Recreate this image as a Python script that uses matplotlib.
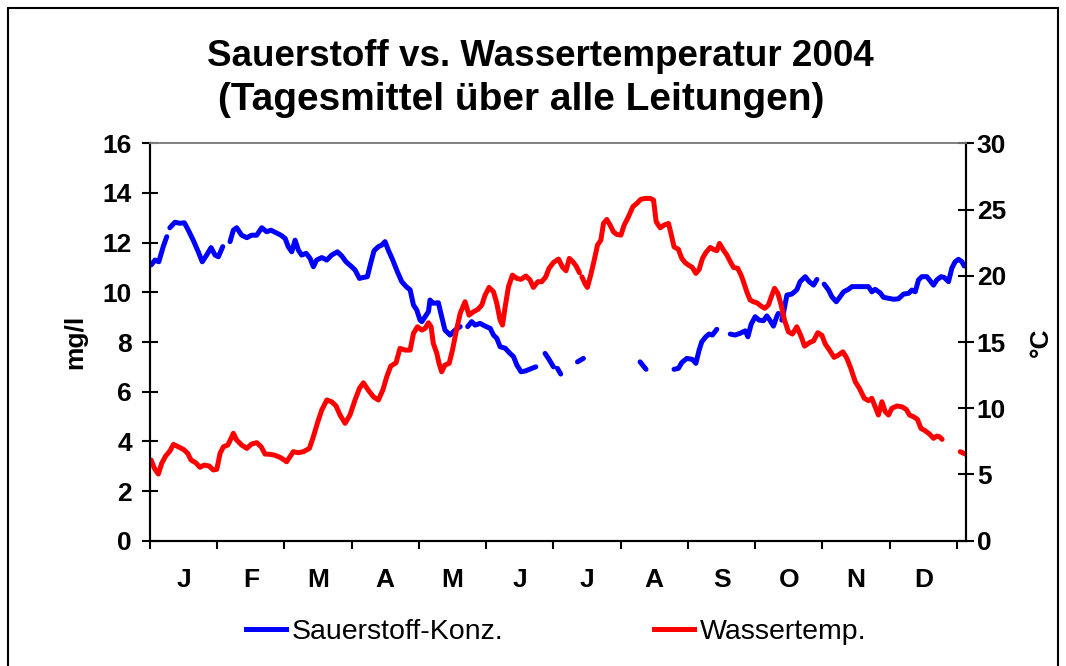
import numpy as np
import matplotlib
matplotlib.use("Agg")
import matplotlib.pyplot as plt
from matplotlib.patches import Rectangle
from matplotlib.lines import Line2D

plt.rcParams['font.family'] = ['Liberation Sans', 'DejaVu Sans']

nan = np.nan

# day of year 2004, daily means (nan = no data)
o2_day = [0.5, 2.3, 4, 6, 7.6, nan,
          9, 11.3, 13.6, 15.6, 17.4, 19.6, 21.9, 23.7, 25.7, 27.7, 29.5, 31, 33, nan,
          36.3, 37.8, 39.3, 41.6, 43.9, 46.1, 48.4, 50.7, 52.9, 54.9, 57.2, 59.4, 61.3, 62.7,
          64.3, 65.8, 67.3, 68.8, 70.8, 72.6, 74.1, 75.6, 77.9, 80.2, 82.4, 85, 87, 88.9,
          91.1, 93, 95, 96.8, 98.6, 100.1, 101.6, 103.6, 105.1, 106.6, 108.1, 110.1, 112.2,
          114.2, 116.2, 118, 119.5, 121, 122.5, 123.3, 124.8, 126.3, 127, 128.5, 130.8,
          132.3, 133.8, 136.1, 138.4, 140.7, nan,
          144.1, 145.9, 147.5, 149.7, 152, 154.3, 155.8, 157.3, 158.8, 161.1, 163.3, 164.9,
          166.4, 168.3, 170.1, 172.4, 175, nan,
          179.2, 181, 183, nan,
          184.8, 186.3, nan,
          193.9, 196.6, nan,
          222.3, 225, nan,
          237.7, 239.7, 241.2, 243.5, 246, 247.6, 249.1, 250.3, 252.1, 253.6, 255.1, 257.1, nan,
          263.2, 265.4, 267.7, 270, 271.2, 272.7, 274.5, 276.3, 278.3, 279.8, 281.3, 282.8,
          284.3, 285, nan,
          286.6, 287.3, 288.9, 291.1, 293.4, 294.9, 297.2, 299, 301, 302.5, nan,
          305.8, 307.8, 309.3, 311.3, 313, 314.6, 316.8, 318.4, 320.6, 322.9, 325.9, 327.4,
          328.9, 331.2, 332.7, 335, 337.3, 339.5, 341.8, 344.1, 345.6, 347.1, 348.6, 350.1,
          352.4, 355.4, 356.9, 358.8, 360.2, 362.2, 363.7, 365.2, 366.7, 368.3, 369.3]
o2_val = [11.1, 11.3, 11.23, 11.84, 12.24, nan,
          12.6, 12.82, 12.78, 12.8, 12.5, 12.1, 11.63, 11.23, 11.5, 11.8, 11.5, 11.43, 11.84, nan,
          12.04, 12.5, 12.6, 12.3, 12.2, 12.3, 12.3, 12.6, 12.44, 12.5, 12.4, 12.3, 12.17, 11.84,
          11.63, 12.1, 11.7, 11.5, 11.57, 11.37, 11.03, 11.3, 11.4, 11.3, 11.5, 11.63, 11.46, 11.23,
          11.06, 10.9, 10.56, 10.6, 10.63, 11.17, 11.67, 11.84, 11.9, 12.04, 11.7, 11.3, 10.83,
          10.43, 10.23, 10.1, 9.49, 9.29, 8.88, 8.82, 9.02, 9.22, 9.69, 9.56, 9.58,
          9.02, 8.48, 8.28, 8.48, 8.62, nan,
          8.62, 8.82, 8.68, 8.75, 8.64, 8.55, 8.28, 8.15, 7.81, 7.75, 7.54, 7.41,
          7.07, 6.8, 6.83, 6.91, 7.0, nan,
          7.54, 7.3, 7.0, nan,
          6.94, 6.71, nan,
          7.2, 7.34, nan,
          7.2, 6.9, nan,
          6.9, 6.94, 7.17, 7.34, 7.3, 7.14, 7.68, 8.01, 8.21, 8.32, 8.28, 8.51, nan,
          8.32, 8.28, 8.35, 8.45, 8.21, 8.72, 9.02, 8.88, 8.86, 9.05, 8.86, 8.64,
          9.02, 9.15, nan,
          8.88, 9.15, 9.89, 9.93, 10.1, 10.43, 10.63, 10.43, 10.29, 10.52, nan,
          10.33, 10.09, 9.82, 9.62, 9.82, 10.02, 10.12, 10.23, 10.23, 10.23, 10.23, 10.02,
          10.12, 9.98, 9.8, 9.76, 9.72, 9.74, 9.93, 9.96, 10.09, 10.02, 10.5, 10.63,
          10.63, 10.29, 10.5, 10.63, 10.6, 10.43, 10.97, 11.23, 11.33, 11.23, 11.06]

temp_day = [0.5, 2, 3.8, 5.3, 7.1, 9.1, 10.6, 12.8, 15.1, 17.1, 18.6, 20.7, 22.7, 24.6, 26.8,
            28.7, 30.3, 31.8, 33.3, 35.3, 36.8, 37.8, 39.3, 41.6, 43.9, 46.1, 48.4, 50.4, 52.2,
            54.4, 56.7, 59, 60.9, 62, 65, 67.3, 69.6, 72.3, 74.1, 75.9, 77.9, 80.2, 82.4, 84.4,
            86.2, 88.5, 90.7, 93, 95, 96.8, 99, 101.3, 103.6, 105.6, 107.4, 109.2, 111.6, 113.4,
            115.7, 118, 119.5, 121.3, 123.3, 124.8, 126.3, 127.5, 128.5, 130.1, 131.1, 132.3,
            133.8, 135.7, 137.2, 138.7, 140.7, 142.9, 144.7, 146.7, 148.7, 150.5, 152, 153.8,
            155.8, 157.3, 158.8, 159.9, 161.1, 162.6, 164.4, 166.4, 168.3, 170.5, 172.4, 173.9,
            175.9, 177.7, 179.5, 181, 183, 185.3, 187.2, 188.7, 190.2, 191.8, 193.3, 194.8, nan,
            195.9, 197.4, 198.4, 199.9, 201.5, 203, 204.5, 205.7, 207.2, 208.7, 210.2, 211.7,
            213.6, 215.1, 217, 219, 220.8, 222.6, 224.6, 226.9, 228.4, 229.6, 231.4, 233.2,
            235.2, 236.3, 237.7, 239.7, 241.2, 242.7, 244.2, 246, 247.6, 249.1, 250.6, 252.1,
            254.1, 255.6, 257.1, 258.3, 260.1, 261.7, 263.2, 264.7, 266.6, 268.1, 269.2, 270.7,
            272.2, 273.7, 275.3, 277.2, 278.8, 280.5, 282.1, 283.3, 284.8, 286.3, 287.8, 289.6,
            291.4, 293.4, 295.4, 296.9, 299, 301, 302.9, 304.8, 306.3, 308.2, 310.3, 312.3,
            314.3, 316.1, 317.9, 319.9, 321.8, 324, 325.9, 327.4, 328.9, 330.4, 332, 333.5,
            335, 336.5, 338.8, 341, 343, 344.5, 346.3, 348.1, 349.7, 351.6, 353.6, 355.4,
            356.9, 358.1, 359.3, nan,
            367.5, 369.8]
temp_val = [6.09, 5.46, 5.03, 5.84, 6.39, 6.79, 7.27, 7.09, 6.9, 6.6, 6.09, 5.89, 5.54, 5.71, 5.64,
            5.34, 5.39, 6.6, 7.09, 7.22, 7.73, 8.11, 7.6, 7.22, 6.97, 7.3, 7.4, 7.09, 6.54,
            6.52, 6.45, 6.29, 6.09, 5.96, 6.72, 6.64, 6.72, 6.97, 7.85, 8.86, 9.86, 10.62, 10.49, 10.17,
            9.49, 8.86, 9.49, 10.62, 11.5, 11.92, 11.37, 10.87, 10.62, 11.37, 12.38, 13.18, 13.43, 14.52,
            14.39, 14.39, 15.65, 16.15, 15.9, 16.03, 16.45, 16.15, 14.9, 14.14, 13.39, 12.75,
            13.26, 13.39, 14.39, 15.65, 17.16, 18.04, 17.03, 17.28, 17.46, 17.79, 18.54, 19.12,
            18.79, 17.92, 16.66, 16.28, 17.66, 19.17, 20.05, 19.8, 19.73, 19.98, 19.68, 19.12,
            19.55, 19.55, 19.92, 20.56, 21.0, 21.26, 20.63, 20.38, 21.31, 21.06, 20.73, 20.23, nan,
            19.92, 19.37, 19.12, 20.05, 21.18, 22.32, 22.69, 23.95, 24.25, 23.83, 23.32, 23.12,
            23.07, 23.83, 24.45, 25.21, 25.46, 25.77, 25.84, 25.84, 25.71, 24.08, 23.62, 23.83,
            23.95, 23.2, 22.19, 21.99, 21.31, 21.0, 20.81, 20.63, 20.18, 20.48, 21.31, 21.74,
            22.14, 21.99, 21.89, 22.44, 21.94, 21.56, 21.06, 20.63, 20.56, 20.05, 19.55, 18.79,
            18.17, 18.04, 17.96, 17.71, 17.54, 17.79, 18.54, 19.05, 18.67, 17.79, 16.66, 15.77,
            15.6, 16.15, 15.4, 14.69, 14.94, 15.09, 15.7, 15.5, 14.85, 14.39, 13.84, 14.02,
            14.26, 13.77, 13.01, 12.0, 11.5, 10.75, 10.57, 10.75, 10.11, 9.49, 10.49, 9.74,
            9.49, 9.99, 10.17, 10.11, 9.92, 9.49, 9.36, 9.16, 8.48, 8.3, 8.05, 7.73,
            7.9, 7.85, 7.65, nan,
            6.72, 6.54]

months = ["J", "F", "M", "A", "M", "J", "J", "A", "S", "O", "N", "D"]

fig = plt.figure(figsize=(10.66, 6.66), dpi=100)
ax = fig.add_axes([150/1066, 1-540.7/666, 815.7/1066, 397.4/666])
ax2 = ax.twinx()

ax.plot(o2_day, o2_val, color="#0000ff", lw=3.6, solid_capstyle="round",
        solid_joinstyle="round", label="Sauerstoff-Konz.")
ax2.plot(temp_day, temp_val, color="#ff0000", lw=3.6, solid_capstyle="round",
         solid_joinstyle="round", label="Wassertemp.")

ax.set_xlim(0, 370)
ax.set_ylim(0, 16)
ax2.set_ylim(0, 30)
ax.set_yticks(range(0, 17, 2))
ax2.set_yticks(range(0, 31, 5))

edges = np.arange(13) * 30.5
ax.set_xticks(edges)
ax.set_xticklabels([])
ax.set_xticks(edges[:-1] + 15.25, minor=True)
ax.set_xticklabels(months, minor=True, fontsize=19, fontweight="bold")
ax.tick_params(axis="x", which="major", direction="out", length=6, width=1.5)
ax.tick_params(axis="x", which="minor", length=0, pad=20)
ax.tick_params(axis="y", direction="inout", length=12, width=1.5, labelsize=19, pad=7)
ax2.tick_params(axis="y", direction="inout", length=12, width=1.5, labelsize=19, pad=2)
for lab in ax.get_yticklabels() + ax2.get_yticklabels():
    lab.set_fontweight("bold")

for a in (ax, ax2):
    a.spines["top"].set_color("#808080")
    a.spines["top"].set_linewidth(1.2)
    a.spines["left"].set_linewidth(1.5)
    a.spines["right"].set_linewidth(1.5)
    a.spines["bottom"].set_linewidth(1.5)

fig.text(75/1066, 1-342/666, "mg/l", rotation=90, ha="center", va="center",
         fontsize=19, fontweight="bold")
fig.text(1041/1066, 1-342/666, "°C", rotation=90, ha="center", va="center",
         fontsize=19, fontweight="bold")

fig.text(540/1066, 1-57/666, "Sauerstoff vs. Wassertemperatur 2004", ha="center",
         va="center", fontsize=26.5, fontweight="bold")
fig.text(521/1066, 1-100/666, "(Tagesmittel über alle Leitungen)", ha="center",
         va="center", fontsize=28, fontweight="bold")

handles = [Line2D([], [], color="#0000ff", lw=3.6), Line2D([], [], color="#ff0000", lw=3.6)]
fig.legend(handles, ["Sauerstoff-Konz.", "Wassertemp."], loc="center",
           bbox_to_anchor=(556/1066, 1-632/666), ncol=2, frameon=False, fontsize=20.5,
           handlelength=1.4, handletextpad=0.2, columnspacing=5.3)

fig.patches.append(Rectangle((8/1066, -0.05), 1050/1066, 1.05 - 8/666,
                             transform=fig.transFigure, fill=False, lw=1.5, ec="black"))

fig.savefig("out.png", dpi=100)
